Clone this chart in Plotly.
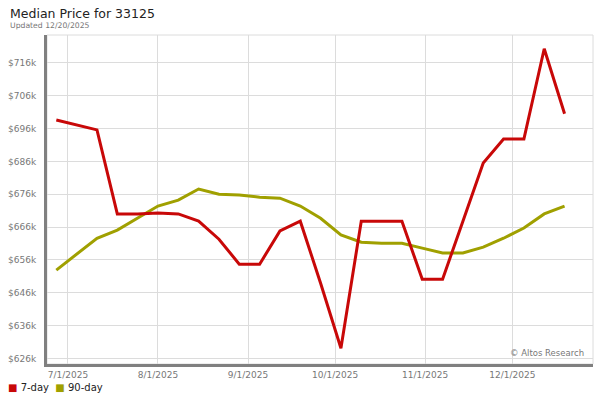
import plotly.graph_objects as go

dates = ["2025-06-27", "2025-07-04", "2025-07-11", "2025-07-18", "2025-07-25",
         "2025-08-01", "2025-08-08", "2025-08-15", "2025-08-22", "2025-08-29",
         "2025-09-05", "2025-09-12", "2025-09-19", "2025-09-26", "2025-10-03",
         "2025-10-10", "2025-10-17", "2025-10-24", "2025-10-31", "2025-11-07",
         "2025-11-14", "2025-11-21", "2025-11-28", "2025-12-05", "2025-12-12",
         "2025-12-19"]

seven_day = [698600, 697200, 695600, 670000, 670000,
             670300, 670000, 667800, 662300, 654700,
             654700, 664800, 667800, 648900, 629100,
             667800, 667800, 667800, 650100, 650100,
             667800, 685500, 692800, 692800, 720300,
             700500]

ninety_day = [652900, 657800, 662600, 665100, 668700,
              672400, 674200, 677600, 676000, 675800,
              675100, 674800, 672400, 668700, 663600,
              661400, 661100, 661100, 659600, 658100,
              658100, 659900, 662600, 665700, 670000,
              672400]

y_tick_vals = [626000, 636000, 646000, 656000, 666000, 676000, 686000, 696000, 706000, 716000]
y_tick_text = ["$626k", "$636k", "$646k", "$656k", "$666k", "$676k", "$686k", "$696k", "$706k", "$716k"]
x_tick_vals = ["2025-07-01", "2025-08-01", "2025-09-01", "2025-10-01", "2025-11-01", "2025-12-01"]
x_tick_text = ["7/1/2025", "8/1/2025", "9/1/2025", "10/1/2025", "11/1/2025", "12/1/2025"]

RED = "#c80808"
OLIVE = "#a0a000"
FONT = "DejaVu Sans"
GREY = "#777777"

fig = go.Figure()
fig.add_trace(go.Scatter(x=dates, y=ninety_day, mode="lines", name="90-day",
                         line=dict(color=OLIVE, width=3), showlegend=False))
fig.add_trace(go.Scatter(x=dates, y=seven_day, mode="lines", name="7-day",
                         line=dict(color=RED, width=3), showlegend=False))

fig.update_layout(
    width=600, height=400,
    margin=dict(l=47, r=7, t=35, b=36, autoexpand=False),
    paper_bgcolor="white", plot_bgcolor="white",
    font=dict(family=FONT, color=GREY, size=9),
    showlegend=False,
)
fig.update_xaxes(
    type="date", range=["2025-06-23 19:00", "2025-12-28 19:00"],
    tickvals=x_tick_vals, ticktext=x_tick_text,
    showgrid=True, gridcolor="#dcdcdc", gridwidth=1,
    showline=True, linecolor="#808080", linewidth=3,
    ticks="", tickfont=dict(size=9, color=GREY), ticklabelstandoff=0,
    zeroline=False, fixedrange=True, automargin=False,
)
fig.update_yaxes(
    range=[624300, 724500],
    tickvals=y_tick_vals, ticktext=y_tick_text,
    showgrid=True, gridcolor="#dcdcdc", gridwidth=1,
    showline=True, linecolor="#808080", linewidth=3,
    ticks="", tickfont=dict(size=9, color=GREY), ticklabelstandoff=6,
    zeroline=False, fixedrange=True, automargin=False,
)

fig.add_shape(type="rect", xref="paper", yref="paper", x0=0, x1=1, y0=0, y1=1,
              line=dict(color="#dcdcdc", width=1), layer="below")

fig.add_annotation(text="Median Price for 33125", xref="paper", yref="paper",
                   x=-0.072, y=1.0, yshift=22, xanchor="left", yanchor="middle",
                   showarrow=False, font=dict(family=FONT, size=12.5, color="#222222"))
fig.add_annotation(text="Updated 12/20/2025", xref="paper", yref="paper",
                   x=-0.072, y=1.0, yshift=10, xanchor="left", yanchor="middle",
                   showarrow=False, font=dict(family=FONT, size=7.7, color=GREY))
fig.add_annotation(text="© Altos Research", xref="paper", yref="paper",
                   x=0.988, y=0.0, yshift=11, xanchor="right", yanchor="middle",
                   showarrow=False, font=dict(family=FONT, size=8.5, color=GREY))
fig.add_annotation(text=f"<span style='color:{RED}'>■</span> 7-day  <span style='color:{OLIVE}'>■</span> 90-day",
                   xref="paper", yref="paper",
                   x=-0.076, y=0.0, yshift=-23, xanchor="left", yanchor="middle",
                   showarrow=False, font=dict(family=FONT, size=10, color="#222222"))

fig.write_html("out.html", config={"displayModeBar": False},
               post_script="document.body.style.margin='0px';")
